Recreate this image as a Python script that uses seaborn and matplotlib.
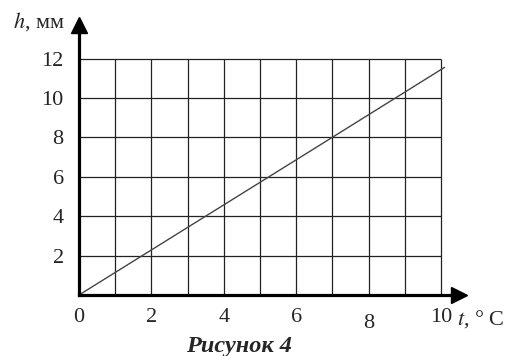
import numpy as np
import pandas as pd
import matplotlib
matplotlib.use("Agg")
import matplotlib.pyplot as plt
import matplotlib.transforms as mtransforms
import seaborn as sns

# data
t_vals = [0, 7, 10.1]          # temperature, °C
h_vals = [0, 8, 11.55]         # height, mm
x_ticks = [0, 2, 4, 6, 8, 10]
y_ticks = [2, 4, 6, 8, 10, 12]
x_grid = [1, 2, 3, 4, 5, 6, 7, 8, 9, 10]
y_grid = [2, 4, 6, 8, 10, 12]

df = pd.DataFrame({"t": t_vals, "h": h_vals})

sns.set_style("white")
plt.rcParams['font.family'] = ['Liberation Serif', 'DejaVu Serif']
plt.rcParams['mathtext.fontset'] = 'stix'

fig = plt.figure(figsize=(5.14, 3.56), dpi=100)
ax = fig.add_axes([79 / 514, 61 / 356, 380 / 514, 270 / 356])
ax.set_xlim(0, 10.5)
ax.set_ylim(0, 13.7)

# grid cells
ax.vlines(x_grid, 0, 12, color="#222222", lw=0.9)
ax.hlines(y_grid, 0, 10, color="#222222", lw=0.9)

sns.lineplot(data=df, x="t", y="h", ax=ax, color="#444444", lw=1.0)

# axes with arrows
for s in ["top", "right"]:
    ax.spines[s].set_visible(False)
for s in ["left", "bottom"]:
    ax.spines[s].set_linewidth(2.3)
    ax.spines[s].set_color("black")
ax.plot(1, 0, ">k", ms=11, transform=ax.get_yaxis_transform(), clip_on=False)
ax.plot(0, 1, "^k", ms=11, transform=ax.get_xaxis_transform(), clip_on=False)

ax.set_xticks(x_ticks)
ax.set_xticklabels([str(v) for v in x_ticks], fontsize=16)
ax.set_yticks(y_ticks)
ax.set_yticklabels([str(v) for v in y_ticks], fontsize=16)
ax.tick_params(axis="both", length=0)
ax.tick_params(axis="x", pad=9)
ax.tick_params(axis="y", pad=11)
ax.set_xlabel("")
ax.set_ylabel("")

# in the original the "8" sits a little lower than the other labels
lbl8 = ax.get_xticklabels()[4]
lbl8.set_transform(lbl8.get_transform() +
                   mtransforms.ScaledTranslation(0, -6 / 100, fig.dpi_scale_trans))

fig.text(13 / 514, 1 - 28 / 356, "$h$, мм", fontsize=16, va="baseline")
fig.text(457 / 514, 1 - 325 / 356, "$t$, ° C", fontsize=16, va="baseline")
fig.text(239 / 514, 1 - 352 / 356, "Рисунок 4", fontsize=17.5,
         fontweight="bold", fontstyle="italic", ha="center", va="baseline")

fig.savefig("out.png", dpi=100)
